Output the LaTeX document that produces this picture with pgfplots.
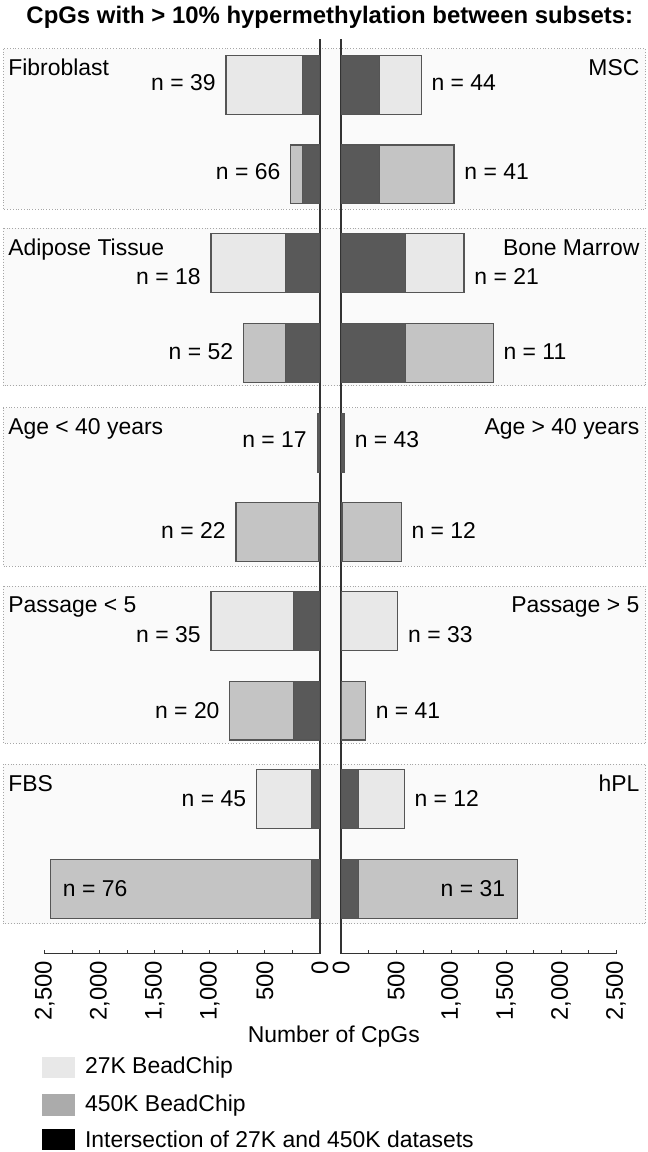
\documentclass[border=0pt]{standalone}
\usepackage{fontspec}
\setmainfont{Liberation Sans}
\usepackage{pgfplots}
\pgfplotsset{compat=1.18}
\usepackage{pgfplotstable}

\definecolor{chipA}{HTML}{E8E8E8}
\definecolor{chipB}{HTML}{C4C4C4}
\definecolor{both}{HTML}{595959}
\definecolor{edge}{HTML}{555555}
\definecolor{axiscol}{HTML}{333333}
\definecolor{panelbg}{HTML}{FAFAFA}
\definecolor{legB}{HTML}{ABABAB}

% y = row position (bottom axis at 0), tot = all CpGs, inter = shared 27K/450K
\pgfplotstableread{
y   tot  inter
872 854  160
693 990  311
513 25   25
334 990  242
155 577  75
}\leftA
\pgfplotstableread{
y   tot  inter
782 265  160
603 695  311
423 763  15
244 818  242
65  2448 75
}\leftB
\pgfplotstableread{
y   tot  inter
872 728  348
693 1118 583
513 30   30
334 516  0
155 574  160
}\rightA
\pgfplotstableread{
y   tot  inter
782 1027 348
603 1383 583
423 547  15
244 221  0
65  1603 160
}\rightB

\newcommand{\lab}{\fontsize{11.5}{13}\selectfont}

\tikzset{nlab/.style={font=\lab, inner sep=0pt}}

\pgfplotsset{
  half/.style={
    xbar, bar width=59, bar shift=0pt,
    scale only axis, width=138pt, height=459pt,
    xmin=0, xmax=2500, ymin=0, ymax=918,
    axis x line*=bottom, axis y line*=middle,
    ytick=\empty,
    xtick={0,500,...,2500}, minor xtick={250,750,...,2250},
    tick align=inside, major tick length=2pt, minor tick length=2pt,
    tick style={draw=axiscol, line width=0.6pt},
    axis line style={draw=axiscol, line width=0.75pt},
    xticklabel style={rotate=90, anchor=east, font=\fontsize{12}{14}\selectfont, text=black},
    /pgf/number format/.cd, 1000 sep={,}, assume math mode=true,
    /pgfplots/.cd,
    clip=false,
  },
}

\begin{document}
\begin{tikzpicture}
\path (0,0) rectangle (325pt,-576pt);

% panel backgrounds
\foreach \t/\b in {45/206, 225/383, 405/564, 584/742, 763/923}{
  \filldraw[fill=panelbg, draw=gray!70, densely dotted, line width=0.4pt]
    (1.5pt,-\t*0.5pt) rectangle (324pt,-\b*0.5pt);
}

% title
\node[anchor=base, font=\fontsize{12}{14}\selectfont\bfseries] at (165.5pt,-10pt)
  {CpGs with > 10\% hypermethylation between subsets:};

% panel labels
\foreach \t/\l/\r in {45/Fibroblast/MSC, 225/Adipose Tissue/Bone Marrow,
  405/Age < 40 years/Age > 40 years, 584/Passage < 5/Passage > 5, 763/FBS/hPL}{
  \node[anchor=base west, font=\lab, inner sep=0pt] at (4pt,-\t*0.5pt-13.5pt) {\l};
  \node[anchor=base east, font=\lab, inner sep=0pt] at (321pt,-\t*0.5pt-13.5pt) {\r};
}

% left half
\begin{axis}[half, x dir=reverse, at={(22.5pt,-476.5pt)}, anchor=south west]
\addplot[fill=chipA, draw=edge, line width=0.6pt] table[x=tot, y=y] {\leftA};
\addplot[fill=both, draw=edge, line width=0.6pt] table[x=inter, y=y] {\leftA};
\addplot[fill=chipB, draw=edge, line width=0.6pt] table[x=tot, y=y] {\leftB};
\addplot[fill=both, draw=edge, line width=0.6pt] table[x=inter, y=y] {\leftB};
\node[nlab, anchor=base east, xshift=-5pt] at (axis cs:854,866.5) {n = 39};
\node[nlab, anchor=base east, xshift=-5pt] at (axis cs:265,776.5) {n = 66};
\node[nlab, anchor=base east, xshift=-5pt] at (axis cs:990,671.5) {n = 18};
\node[nlab, anchor=base east, xshift=-5pt] at (axis cs:695,596.5) {n = 52};
\node[nlab, anchor=base east, xshift=-5pt] at (axis cs:25,507.5) {n = 17};
\node[nlab, anchor=base east, xshift=-5pt] at (axis cs:763,416.5) {n = 22};
\node[nlab, anchor=base east, xshift=-5pt] at (axis cs:990,312.5) {n = 35};
\node[nlab, anchor=base east, xshift=-5pt] at (axis cs:818,236.5) {n = 20};
\node[nlab, anchor=base east, xshift=-5pt] at (axis cs:577,147.5) {n = 45};
\node[nlab, anchor=base west, xshift=6pt] at (axis cs:2448,57.5) {n = 76};
\end{axis}

% right half
\begin{axis}[half, at={(171.15pt,-476.5pt)}, anchor=south west]
\addplot[fill=chipA, draw=edge, line width=0.6pt] table[x=tot, y=y] {\rightA};
\addplot[fill=both, draw=edge, line width=0.6pt] table[x=inter, y=y] {\rightA};
\addplot[fill=chipB, draw=edge, line width=0.6pt] table[x=tot, y=y] {\rightB};
\addplot[fill=both, draw=edge, line width=0.6pt] table[x=inter, y=y] {\rightB};
\node[nlab, anchor=base west, xshift=5pt] at (axis cs:728,866.5) {n = 44};
\node[nlab, anchor=base west, xshift=5pt] at (axis cs:1027,776.5) {n = 41};
\node[nlab, anchor=base west, xshift=5pt] at (axis cs:1118,671.5) {n = 21};
\node[nlab, anchor=base west, xshift=5pt] at (axis cs:1383,596.5) {n = 11};
\node[nlab, anchor=base west, xshift=5pt] at (axis cs:30,507.5) {n = 43};
\node[nlab, anchor=base west, xshift=5pt] at (axis cs:547,416.5) {n = 12};
\node[nlab, anchor=base west, xshift=5pt] at (axis cs:516,312.5) {n = 33};
\node[nlab, anchor=base west, xshift=5pt] at (axis cs:221,236.5) {n = 41};
\node[nlab, anchor=base west, xshift=5pt] at (axis cs:574,147.5) {n = 12};
\node[nlab, anchor=base east, xshift=-6pt] at (axis cs:1603,57.5) {n = 31};
\end{axis}

% axis title
\node[font=\lab] at (167.5pt,-518pt) {Number of CpGs};

% legend
\fill[chipA] (21pt,-528.5pt) rectangle (37.5pt,-539pt);
\fill[legB]  (21pt,-547pt)   rectangle (37.5pt,-558pt);
\fill[black] (21pt,-564.5pt) rectangle (37.5pt,-575pt);
\node[anchor=west, font=\lab, inner sep=0pt] at (42.5pt,-533.75pt) {27K BeadChip};
\node[anchor=west, font=\lab, inner sep=0pt] at (42.5pt,-552.5pt) {450K BeadChip};
\node[anchor=west, font=\lab, inner sep=0pt] at (42.5pt,-569.75pt) {Intersection of 27K and 450K datasets};
\end{tikzpicture}
\end{document}
